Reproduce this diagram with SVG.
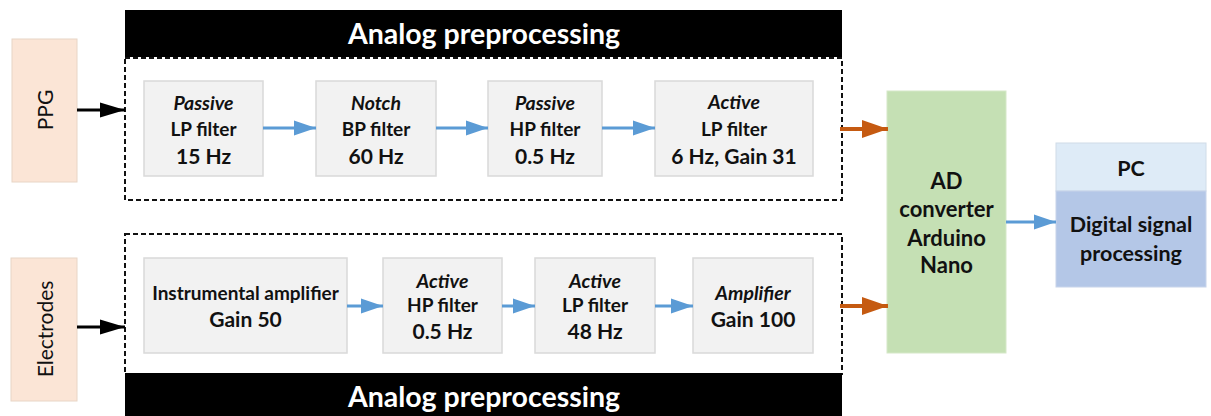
<svg xmlns="http://www.w3.org/2000/svg" width="1211" height="416" viewBox="0 0 1211 416">
<style>
text{font-family:Lato,"Liberation Sans",sans-serif;font-weight:bold;fill:#111;text-anchor:middle;dominant-baseline:central}
.it{font-style:italic;font-size:19.5px}
.md{font-size:19px}
.lg{font-size:21px}
.xl{font-size:22px}
.pc{font-size:21.5px}
.lbl{font-size:21px;font-weight:normal}
.title{font-size:28.5px;fill:#fff}
.src{fill:#FBE5D6;stroke:#E8D5C6;stroke-width:1}
.blk{fill:#F2F2F2;stroke:#D9D9D9;stroke-width:1.5}
.dash{fill:none;stroke:#111;stroke-width:2;stroke-dasharray:5,3}
.bar{fill:#000}
.ablue{stroke:#5B9BD5;stroke-width:3;fill:none;marker-end:url(#hb)}
.aor{stroke:#C55A11;stroke-width:4;fill:none;marker-end:url(#ho)}
.ablk{stroke:#000;stroke-width:3;fill:none;marker-end:url(#hk)}
</style>
<defs>
<marker id="hb" markerUnits="userSpaceOnUse" markerWidth="23" markerHeight="16" refX="22" refY="8" orient="auto"><polygon points="0,0.5 22,8 0,15.5" fill="#5B9BD5"/></marker>
<marker id="ho" markerUnits="userSpaceOnUse" markerWidth="26" markerHeight="20" refX="26" refY="10" orient="auto"><polygon points="0,1 26,10 0,19" fill="#C55A11"/></marker>
<marker id="hk" markerUnits="userSpaceOnUse" markerWidth="25" markerHeight="18" refX="25" refY="9" orient="auto"><polygon points="0,1.5 25,9 0,16.5" fill="#000"/></marker>
</defs>

<g id="top-bar"><rect class="bar" x="125" y="10" width="717" height="47"/><text class="title" x="484" y="33">Analog preprocessing</text></g>
<g id="top-group"><rect class="dash" x="125" y="58" width="717" height="142"/></g>
<g id="bottom-group"><rect class="dash" x="125" y="234" width="717" height="140"/></g>
<g id="bottom-bar"><rect class="bar" x="125" y="373" width="717" height="43"/><text class="title" x="484" y="396">Analog preprocessing</text></g>

<g id="ppg"><rect class="src" x="12" y="39" width="65" height="143"/><text class="lbl" transform="translate(44.5,110) rotate(-90)">PPG</text></g>
<g id="electrodes"><rect class="src" x="11" y="258" width="66" height="143"/><text class="lbl" transform="translate(44,329) rotate(-90)">Electrodes</text></g>

<g id="passive-lp"><rect class="blk" x="144" y="81" width="119" height="95"/><text class="it" x="203.5" y="102">Passive</text><text class="md" x="203.5" y="128">LP filter</text><text class="lg" x="203.5" y="155">15 Hz</text></g>
<g id="notch-bp"><rect class="blk" x="316" y="81" width="120" height="95"/><text class="it" x="376" y="102">Notch</text><text class="md" x="376" y="128">BP filter</text><text class="lg" x="376" y="155">60 Hz</text></g>
<g id="passive-hp"><rect class="blk" x="488" y="81" width="114" height="95"/><text class="it" x="545" y="102">Passive</text><text class="md" x="545" y="128">HP filter</text><text class="lg" x="545" y="155">0.5 Hz</text></g>
<g id="active-lp"><rect class="blk" x="655" y="81" width="158" height="95"/><text class="it" x="734" y="101">Active</text><text class="md" x="734" y="128">LP filter</text><text class="lg" x="734" y="155">6 Hz, Gain 31</text></g>

<g id="instr-amp"><rect class="blk" x="144" y="258" width="203" height="95"/><text class="md" x="245.5" y="292">Instrumental amplifier</text><text class="lg" x="245.5" y="318">Gain 50</text></g>
<g id="active-hp"><rect class="blk" x="383" y="258" width="119" height="95"/><text class="it" x="442.5" y="280">Active</text><text class="md" x="442.5" y="304">HP filter</text><text class="lg" x="442.5" y="330">0.5 Hz</text></g>
<g id="active-lp2"><rect class="blk" x="535" y="258" width="120" height="95"/><text class="it" x="595" y="280">Active</text><text class="md" x="595" y="304">LP filter</text><text class="lg" x="595" y="330">48 Hz</text></g>
<g id="amplifier"><rect class="blk" x="693" y="258" width="120" height="95"/><text class="it" x="753" y="292">Amplifier</text><text class="lg" x="753" y="318">Gain 100</text></g>

<g id="adc"><rect x="887" y="91" width="119" height="262" fill="#C5E0B4" stroke="#D5E8C8"/><text class="xl" x="946.5" y="180">AD</text><text class="xl" x="946.5" y="208">converter</text><text class="xl" x="946.5" y="237">Arduino</text><text class="xl" x="946.5" y="264">Nano</text></g>
<g id="pc"><rect x="1056" y="143" width="150" height="48" fill="#DEEBF7" stroke="#D0DCE8"/><rect x="1056" y="191" width="150" height="96" fill="#B4C7E7" stroke="#C8D4EA"/><text class="pc" x="1131" y="168">PC</text><text class="pc" x="1131" y="224">Digital signal</text><text class="pc" x="1131" y="253">processing</text></g>

<g id="connectors">
<line class="ablk" x1="77" y1="110" x2="125" y2="110"/>
<line class="ablk" x1="77" y1="327" x2="125" y2="327"/>
<line class="ablue" x1="263" y1="128" x2="316" y2="128"/>
<line class="ablue" x1="436" y1="128" x2="488" y2="128"/>
<line class="ablue" x1="602" y1="128" x2="655" y2="128"/>
<line class="ablue" x1="347" y1="306" x2="383" y2="306"/>
<line class="ablue" x1="502" y1="306" x2="535" y2="306"/>
<line class="ablue" x1="655" y1="306" x2="693" y2="306"/>
<line class="aor" x1="840" y1="129" x2="888" y2="129"/>
<line class="aor" x1="840" y1="306" x2="888" y2="306"/>
<line class="ablue" x1="1006" y1="222" x2="1056" y2="222"/>
</g>
</svg>
